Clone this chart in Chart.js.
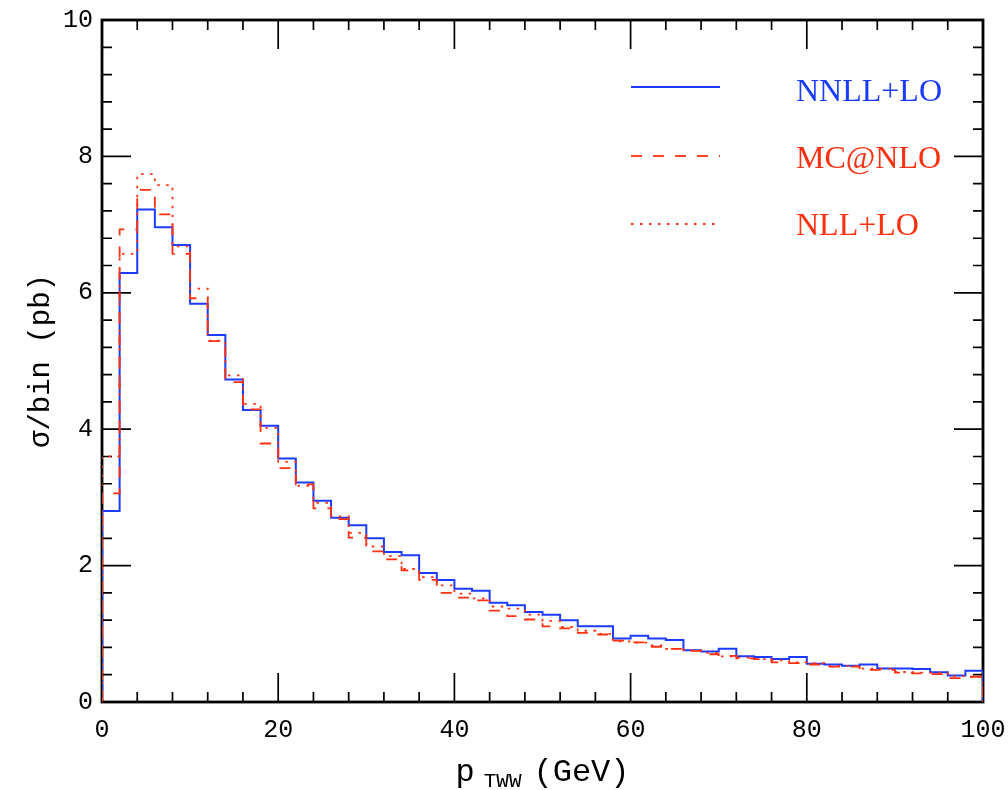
<!DOCTYPE html>
<html><head><meta charset="utf-8">
<script src="https://cdn.jsdelivr.net/npm/chart.js@4"></script>
<style>html,body{margin:0;padding:0;background:#fff}#wrap{width:1008px;height:790px;position:relative}</style>
</head><body><div id="wrap"><canvas id="c"></canvas></div>
<script>
// Bin lower edges (GeV), bin width 2 GeV
const binLow = [0,2,4,6,8,10,12,14,16,18,20,22,24,26,28,30,32,34,36,38,40,42,44,46,48,50,52,54,56,58,60,62,64,66,68,70,72,74,76,78,80,82,84,86,88,90,92,94,96,98];
const binHigh = 100;
const seriesLabels = ['NNLL+LO', 'MC@NLO', 'NLL+LO'];
const nnllLO = [2.80,6.29,7.22,6.96,6.70,5.84,5.38,4.73,4.28,4.05,3.57,3.22,2.95,2.70,2.59,2.40,2.20,2.15,1.89,1.79,1.66,1.63,1.455,1.42,1.32,1.28,1.20,1.11,1.11,0.93,0.97,0.93,0.91,0.76,0.74,0.78,0.67,0.66,0.63,0.66,0.56,0.55,0.53,0.55,0.49,0.49,0.485,0.435,0.39,0.46];
const mcAtNlo = [3.06,6.93,7.51,7.15,6.57,5.92,5.29,4.69,4.29,3.79,3.43,3.19,2.84,2.68,2.41,2.21,2.09,1.93,1.79,1.60,1.53,1.49,1.34,1.26,1.21,1.11,1.08,1.015,0.99,0.90,0.875,0.81,0.78,0.75,0.70,0.675,0.64,0.63,0.58,0.57,0.55,0.52,0.52,0.47,0.47,0.43,0.42,0.41,0.35,0.37];
const nllLO = [3.60,6.57,7.74,7.58,6.68,6.06,5.30,4.79,4.37,4.02,3.52,3.17,2.92,2.72,2.48,2.28,2.14,1.95,1.83,1.71,1.59,1.52,1.40,1.37,1.28,1.19,1.10,1.045,1.00,0.89,0.87,0.83,0.78,0.76,0.72,0.67,0.65,0.63,0.61,0.58,0.57,0.53,0.53,0.49,0.49,0.44,0.43,0.43,0.38,0.37];
const xTickStep = 20, xMinorStep = 4;
const yTickStep = 2, yMinorStep = 0.4;

const BLUE = '#1b3cff', RED = '#ff3010';
const MONO = "'Liberation Mono', 'DejaVu Sans Mono', monospace";
const SERIF = "'Liberation Serif', 'DejaVu Serif', serif";

function histPoints(vals) {
  const pts = [{x: binLow[0], y: 0}];
  vals.forEach((v, i) => pts.push({x: binLow[i], y: v}));
  pts.push({x: binHigh, y: vals[vals.length - 1]});
  pts.push({x: binHigh, y: 0});
  return pts;
}

const frameTicks = {
  id: 'frameTicks',
  beforeDatasetsDraw(chart) {
    const {ctx, chartArea: a, scales: {x, y}} = chart;
    ctx.save();
    ctx.strokeStyle = '#000';
    ctx.lineWidth = 1.7;
    ctx.beginPath();
    const nx = Math.round((x.max - x.min) / xMinorStep);
    for (let k = 0; k <= nx; k++) {
      const v = x.min + k * xMinorStep;
      const px = x.getPixelForValue(v);
      const L = (Math.abs(v % xTickStep) < 1e-6) ? 29 : 10;
      ctx.moveTo(px, a.bottom); ctx.lineTo(px, a.bottom - L);
      ctx.moveTo(px, a.top); ctx.lineTo(px, a.top + L);
    }
    const ny = Math.round((y.max - y.min) / yMinorStep);
    const per = Math.round(yTickStep / yMinorStep);
    for (let k = 0; k <= ny; k++) {
      const v = y.min + k * yMinorStep;
      const py = y.getPixelForValue(v);
      const L = (k % per === 0) ? 29 : 10;
      ctx.moveTo(a.left, py); ctx.lineTo(a.left + L, py);
      ctx.moveTo(a.right, py); ctx.lineTo(a.right - L, py);
    }
    ctx.stroke();
    ctx.lineWidth = 2.8;
    ctx.strokeRect(a.left, a.top, a.right - a.left, a.bottom - a.top);
    ctx.restore();
  },
  afterDraw(chart) {
    const {ctx, chartArea: a} = chart;
    ctx.save();
    // legend
    const lx0 = 631, lx1 = 720, tx = 796;
    const lineY = [87, 156, 224], baseY = [101, 168, 235];
    [0, 1, 2].forEach((di, i) => {
      const ds = chart.data.datasets[di];
      ctx.strokeStyle = ds.borderColor;
      ctx.lineWidth = 1.8;
      ctx.setLineDash(ds.borderDash || []);
      ctx.beginPath(); ctx.moveTo(lx0, lineY[i]); ctx.lineTo(lx1, lineY[i]); ctx.stroke();
      ctx.setLineDash([]);
      ctx.fillStyle = ds.borderColor;
      ctx.font = '32px ' + SERIF;
      ctx.textBaseline = 'alphabetic';
      ctx.textAlign = 'left';
      ctx.fillText(ds.label, tx, baseY[i]);
    });
    // x axis title with subscript
    const big = '32px ' + MONO, small = '21px ' + MONO;
    const t1 = 'p', t2 = 'TWW', t3 = '(GeV)', gap1 = 9, gap2 = 12;
    ctx.font = big; const w1 = ctx.measureText(t1).width, w3 = ctx.measureText(t3).width;
    ctx.font = small; const w2 = ctx.measureText(t2).width;
    const total = w1 + gap1 + w2 + gap2 + w3;
    let sx = (a.left + a.right) / 2 - total / 2;
    const by = 781;
    ctx.fillStyle = '#000';
    ctx.textBaseline = 'alphabetic'; ctx.textAlign = 'left';
    ctx.font = big; ctx.fillText(t1, sx, by); sx += w1 + gap1;
    ctx.font = small; ctx.fillText(t2, sx, by + 6); sx += w2 + gap2;
    ctx.font = big; ctx.fillText(t3, sx, by);
    ctx.restore();
  }
};

new Chart(document.getElementById('c'), {
  type: 'line',
  data: {
    datasets: [
      {label: seriesLabels[0], data: histPoints(nnllLO), borderColor: BLUE, borderWidth: 2, stepped: 'before', pointRadius: 0, fill: false, order: 3},
      {label: seriesLabels[1], data: histPoints(mcAtNlo), borderColor: RED, borderWidth: 1.8, borderDash: [11, 11], stepped: 'before', pointRadius: 0, fill: false, order: 2},
      {label: seriesLabels[2], data: histPoints(nllLO), borderColor: RED, borderWidth: 1.8, borderDash: [2.5, 6.5], stepped: 'before', pointRadius: 0, fill: false, order: 1}
    ]
  },
  options: {
    responsive: true, maintainAspectRatio: false, animation: false,
    layout: {padding: {top: 20, right: 25, left: 0, bottom: 0}},
    plugins: {legend: {display: false}, tooltip: {enabled: false}},
    scales: {
      x: {
        type: 'linear', min: 0, max: 100,
        ticks: {stepSize: xTickStep, color: '#000', font: {family: MONO, size: 25}, padding: 13, maxRotation: 0, autoSkip: false},
        grid: {display: false, drawTicks: false}, border: {display: false},
        afterFit(s) { s.height = 88; s.paddingLeft = 0; s.paddingRight = 0; }
      },
      y: {
        type: 'linear', min: 0, max: 10,
        ticks: {stepSize: yTickStep, color: '#000', font: {family: MONO, size: 25}, padding: 9},
        grid: {display: false, drawTicks: false}, border: {display: false},
        title: {display: true, text: 'σ/bin (pb)', color: '#000', font: {family: MONO, size: 29}, padding: {top: 24, bottom: 0}},
        afterFit(s) { s.width = 102; s.paddingTop = 0; s.paddingBottom = 0; }
      }
    }
  },
  plugins: [frameTicks]
});
</script>
</body></html>
